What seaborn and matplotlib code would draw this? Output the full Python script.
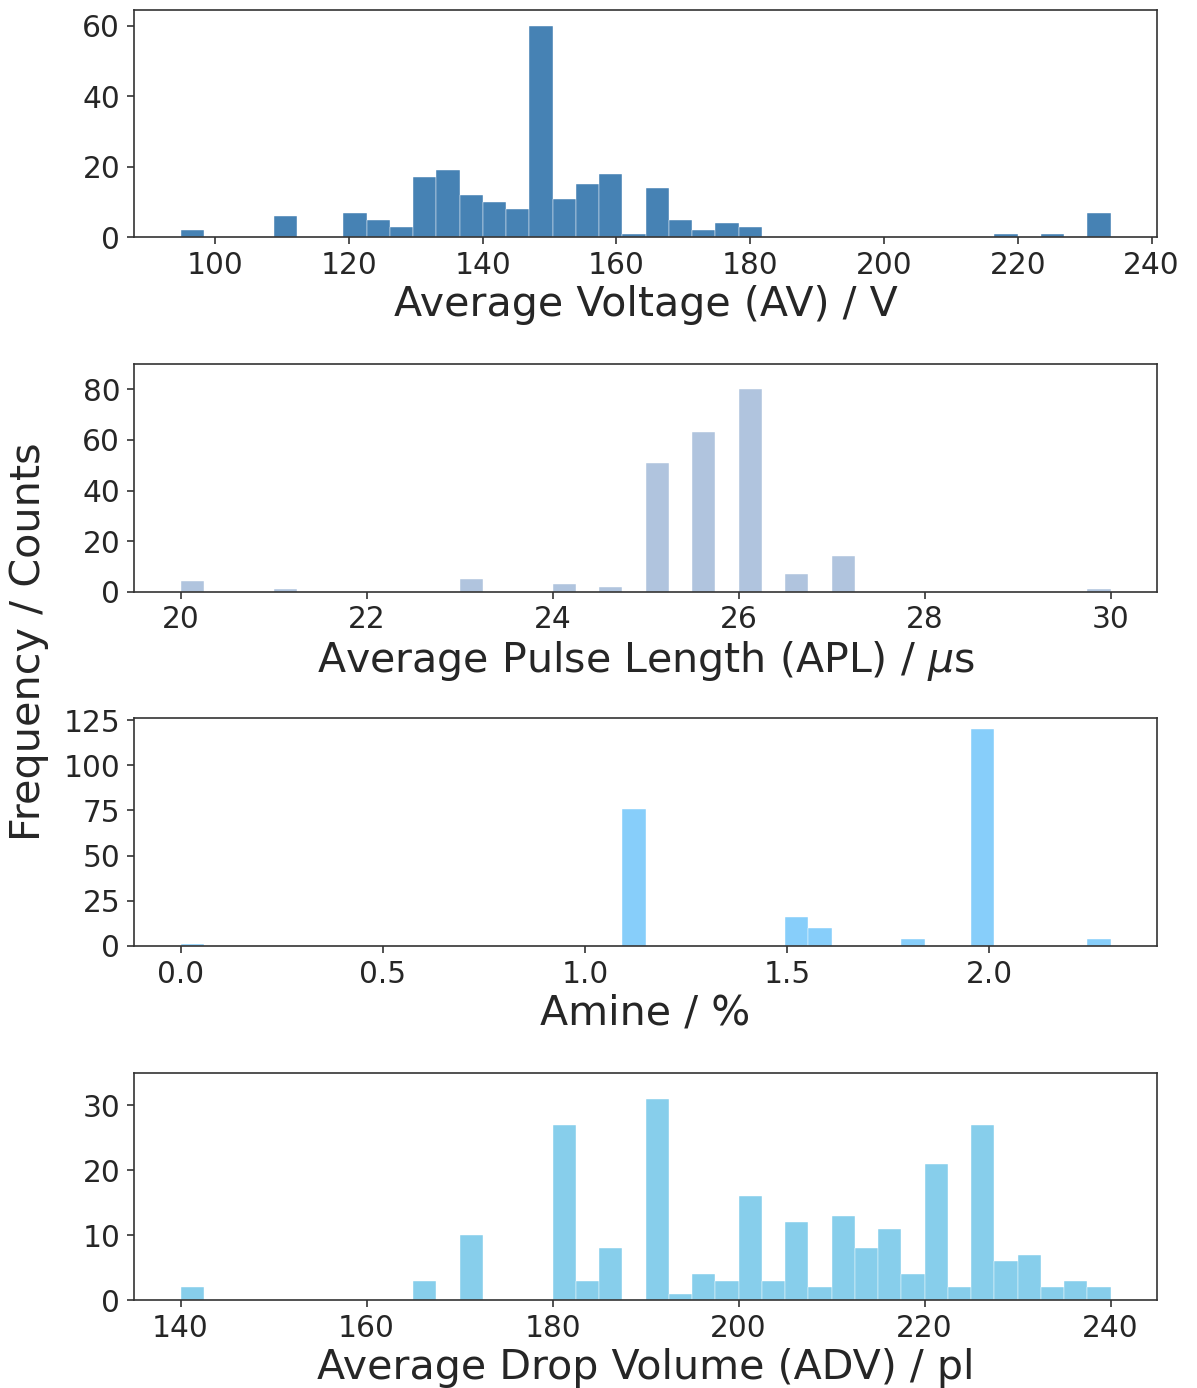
import numpy as np
import pandas as pd
import matplotlib
matplotlib.use("Agg")
import matplotlib.pyplot as plt
from matplotlib.ticker import MultipleLocator, FormatStrFormatter
import seaborn as sns

# ---------------- data ----------------
av_values = [96, 110, 121, 124, 128, 131, 135, 138, 142, 145, 150, 152, 155,
             159, 162, 166, 169, 173, 176, 180, 218, 225, 232]
av_counts = [2, 6, 7, 5, 3, 17, 19, 12, 10, 8, 60, 11, 15,
             18, 1, 14, 5, 2, 4, 3, 1, 1, 7]
av_range = (94.85, 233.85)

apl_values = [20.0, 21.0, 23.0, 24.0, 24.5, 25.0, 25.5, 26.0, 26.5, 27.0, 30.0]
apl_counts = [4, 1, 5, 3, 2, 51, 63, 80, 7, 14, 1]
apl_range = (20.0, 30.0)

amine_values = [0.0, 1.1, 1.5, 1.6, 1.8, 2.0, 2.3]
amine_counts = [1, 76, 16, 10, 4, 120, 4]
amine_range = (0.0, 2.3)

adv_values = [141, 166, 171, 181, 183.5, 186, 191, 193.5, 196, 198.5, 201,
              203.5, 206, 208.5, 211, 213.5, 216, 218.5, 221, 223.5, 226,
              228.5, 231, 233.5, 236, 238.5]
adv_counts = [2, 3, 10, 27, 3, 8, 31, 1, 4, 3, 16,
              3, 12, 2, 13, 8, 11, 4, 21, 2, 27,
              6, 7, 2, 3, 2]
adv_range = (140.0, 240.0)

n_bins = 40

xlabels = ["Average Voltage (AV) / V",
           r"Average Pulse Length (APL) / $\mu$s",
           "Amine / %",
           "Average Drop Volume (ADV) / pl"]
colors = ["#4682B4", "#B0C4DE", "#87CEFA", "#87CEEB"]
ylims = [64.5, 90, 126, 35]
ysteps = [20, 20, 25, 10]
xsteps = [20, 2, 0.5, 20]

# ---------------- style ----------------
sns.set_style("ticks")
plt.rcParams["font.family"] = ["DejaVu Sans"]
plt.rcParams["mathtext.fontset"] = "dejavusans"

fig, axes = plt.subplots(4, 1, figsize=(11.97, 13.88), dpi=100)
fig.subplots_adjust(left=0.112, right=0.9666, top=0.9928, bottom=0.0634,
                    hspace=0.558)

datasets = [
    (av_values, av_counts, av_range),
    (apl_values, apl_counts, apl_range),
    (amine_values, amine_counts, amine_range),
    (adv_values, adv_counts, adv_range),
]

for ax, (vals, cnts, rng), lab, col, ylim, ys, xs in zip(
        axes, datasets, xlabels, colors, ylims, ysteps, xsteps):
    df = pd.DataFrame({"value": vals, "count": cnts})
    sns.histplot(data=df, x="value", weights="count", bins=n_bins,
                 binrange=rng, color=col, alpha=1.0,
                 edgecolor="white", linewidth=0.3, ax=ax)
    ax.set_ylim(0, ylim)
    ax.yaxis.set_major_locator(MultipleLocator(ys))
    ax.xaxis.set_major_locator(MultipleLocator(xs))
    ax.set_xlabel(lab, fontsize=29.6, color="#262626", labelpad=3.5)
    ax.set_ylabel("")
    ax.tick_params(axis="both", labelsize=21.3, length=5, width=1.2,
                   colors="#333333", labelcolor="#262626", pad=5)
    for sp in ax.spines.values():
        sp.set_visible(True)
        sp.set_color("#333333")
        sp.set_linewidth(1.2)

axes[2].xaxis.set_major_formatter(FormatStrFormatter("%.1f"))

fig.text(0.0245, 0.5378, "Frequency / Counts", rotation=90, va="center",
         ha="center", fontsize=29.8, color="#262626")

fig.savefig("out.png", dpi=100)
